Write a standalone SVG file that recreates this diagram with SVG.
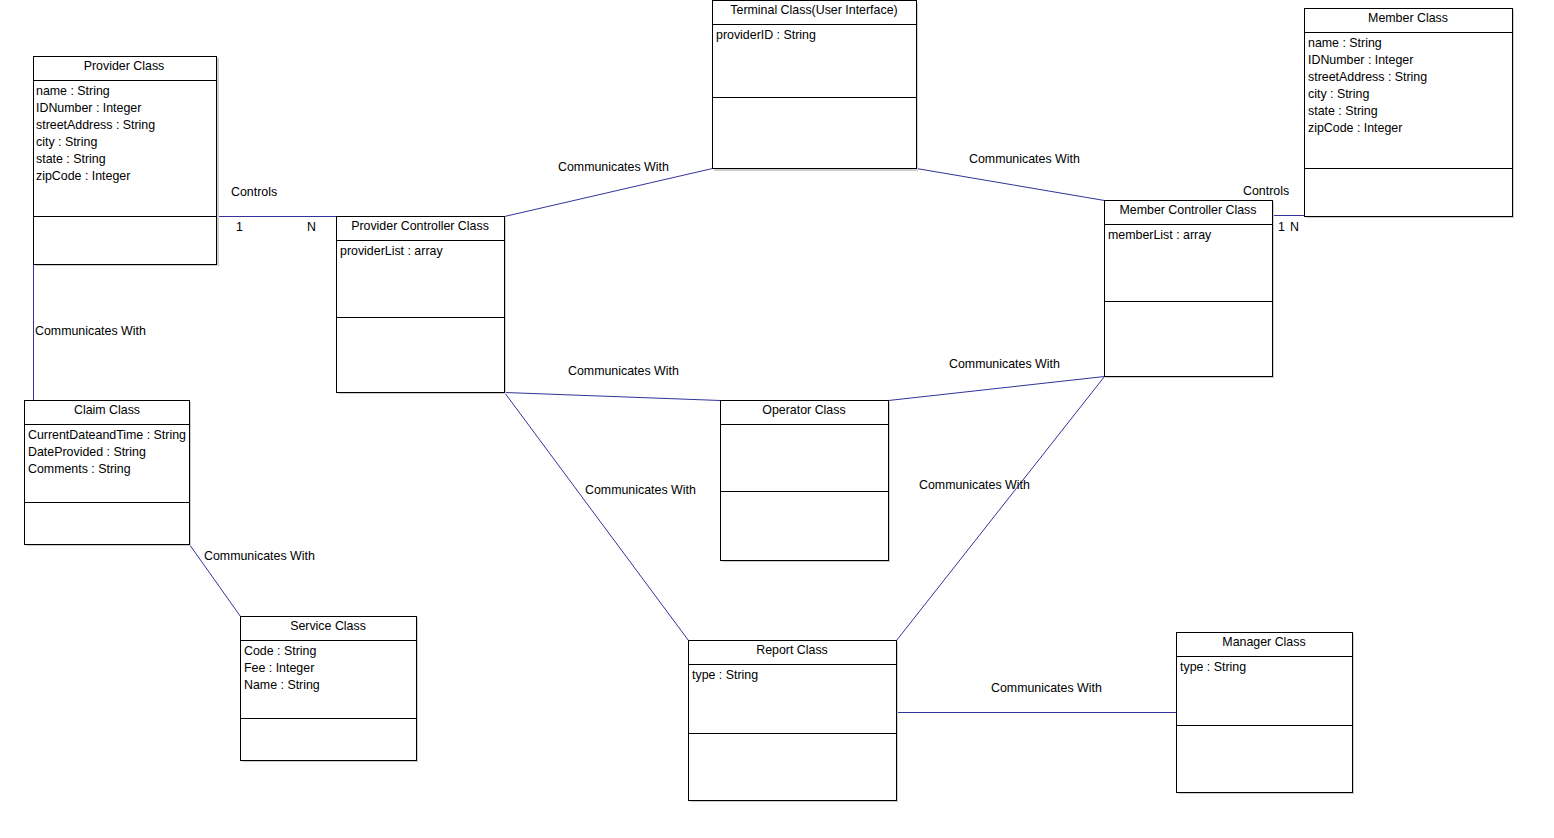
<svg xmlns="http://www.w3.org/2000/svg" width="1554" height="838" viewBox="0 0 1554 838">
<style>
text{font-family:"Liberation Sans",Arial,sans-serif;font-size:12.4px;fill:#000}
.t{text-anchor:middle}
.box{fill:#fff;stroke:#000;stroke-width:1}
.sh{fill:#cfcfcf}
.div{stroke:#000;stroke-width:1}
.c{stroke:#333399;stroke-width:1;fill:none}
</style>
<rect width="1554" height="838" fill="#fff"/>
<g id="connectors">
<line class="c" x1="216.5" y1="216.5" x2="336.5" y2="216.5"/>
<line class="c" x1="33.5" y1="264.5" x2="33.5" y2="400.5"/>
<line class="c" x1="504.5" y1="216.5" x2="712.5" y2="168.5"/>
<line class="c" x1="916.5" y1="168.5" x2="1104.5" y2="200.5"/>
<line class="c" x1="1272.5" y1="215.5" x2="1304.5" y2="215.5"/>
<line class="c" x1="504.5" y1="392.5" x2="720.5" y2="400.5"/>
<line class="c" x1="888.5" y1="400.5" x2="1104.5" y2="376.5"/>
<line class="c" x1="504.5" y1="392.5" x2="688.5" y2="640.5"/>
<line class="c" x1="1104.5" y1="376.5" x2="896.5" y2="640.5"/>
<line class="c" x1="189.5" y1="544.5" x2="240.5" y2="616.5"/>
<line class="c" x1="896.5" y1="712.5" x2="1176.5" y2="712.5"/>
<text x="231" y="196">Controls</text>
<text x="236" y="231">1</text>
<text x="307" y="231">N</text>
<text x="35" y="335">Communicates With</text>
<text x="558" y="171">Communicates With</text>
<text x="969" y="163">Communicates With</text>
<text x="1243" y="195">Controls</text>
<text x="1278" y="231">1</text>
<text x="1290" y="231">N</text>
<text x="568" y="375">Communicates With</text>
<text x="949" y="368">Communicates With</text>
<text x="585" y="494">Communicates With</text>
<text x="919" y="489">Communicates With</text>
<text x="204" y="560">Communicates With</text>
<text x="991" y="692">Communicates With</text>
</g>
<g id="provider">
<rect class="sh" x="35" y="58" width="184" height="208"/>
<rect class="box" x="33.5" y="56.5" width="183" height="208"/>
<line class="div" x1="33.5" y1="80.5" x2="216.5" y2="80.5"/>
<line class="div" x1="33.5" y1="216.5" x2="216.5" y2="216.5"/>
<text class="t" x="124" y="70">Provider Class</text>
<text x="36" y="95">name : String</text>
<text x="36" y="112">IDNumber : Integer</text>
<text x="36" y="129">streetAddress : String</text>
<text x="36" y="146">city : String</text>
<text x="36" y="163">state : String</text>
<text x="36" y="180">zipCode : Integer</text>
</g>
<g id="terminal">
<rect class="sh" x="714" y="3" width="204" height="168"/>
<rect class="box" x="712.5" y="0.5" width="204" height="168"/>
<line class="div" x1="712.5" y1="24.5" x2="916.5" y2="24.5"/>
<line class="div" x1="712.5" y1="97.5" x2="916.5" y2="97.5"/>
<text class="t" x="814" y="14">Terminal Class(User Interface)</text>
<text x="716" y="39">providerID : String</text>
</g>
<g id="member">
<rect class="sh" x="1306" y="10" width="208" height="208"/>
<rect class="box" x="1304.5" y="8.5" width="208" height="208"/>
<line class="div" x1="1304.5" y1="32.5" x2="1512.5" y2="32.5"/>
<line class="div" x1="1304.5" y1="168.5" x2="1512.5" y2="168.5"/>
<text class="t" x="1408" y="22">Member Class</text>
<text x="1308" y="47">name : String</text>
<text x="1308" y="64">IDNumber : Integer</text>
<text x="1308" y="81">streetAddress : String</text>
<text x="1308" y="98">city : String</text>
<text x="1308" y="115">state : String</text>
<text x="1308" y="132">zipCode : Integer</text>
</g>
<g id="providerController">
<rect class="sh" x="338" y="218" width="168" height="176"/>
<rect class="box" x="336.5" y="216.5" width="168" height="176"/>
<line class="div" x1="336.5" y1="240.5" x2="504.5" y2="240.5"/>
<line class="div" x1="336.5" y1="317.5" x2="504.5" y2="317.5"/>
<text class="t" x="420" y="230">Provider Controller Class</text>
<text x="340" y="255">providerList : array</text>
</g>
<g id="memberController">
<rect class="sh" x="1106" y="202" width="168" height="176"/>
<rect class="box" x="1104.5" y="200.5" width="168" height="176"/>
<line class="div" x1="1104.5" y1="224.5" x2="1272.5" y2="224.5"/>
<line class="div" x1="1104.5" y1="301.5" x2="1272.5" y2="301.5"/>
<text class="t" x="1188" y="214">Member Controller Class</text>
<text x="1108" y="239">memberList : array</text>
</g>
<g id="claim">
<rect class="sh" x="26" y="402" width="165" height="144"/>
<rect class="box" x="24.5" y="400.5" width="165" height="144"/>
<line class="div" x1="24.5" y1="424.5" x2="189.5" y2="424.5"/>
<line class="div" x1="24.5" y1="502.5" x2="189.5" y2="502.5"/>
<text class="t" x="107" y="414">Claim Class</text>
<text x="28" y="439">CurrentDateandTime : String</text>
<text x="28" y="456">DateProvided : String</text>
<text x="28" y="473">Comments : String</text>
</g>
<g id="operator">
<rect class="sh" x="722" y="402" width="168" height="160"/>
<rect class="box" x="720.5" y="400.5" width="168" height="160"/>
<line class="div" x1="720.5" y1="424.5" x2="888.5" y2="424.5"/>
<line class="div" x1="720.5" y1="491.5" x2="888.5" y2="491.5"/>
<text class="t" x="804" y="414">Operator Class</text>
</g>
<g id="service">
<rect class="sh" x="242" y="618" width="176" height="144"/>
<rect class="box" x="240.5" y="616.5" width="176" height="144"/>
<line class="div" x1="240.5" y1="640.5" x2="416.5" y2="640.5"/>
<line class="div" x1="240.5" y1="718.5" x2="416.5" y2="718.5"/>
<text class="t" x="328" y="630">Service Class</text>
<text x="244" y="655">Code : String</text>
<text x="244" y="672">Fee : Integer</text>
<text x="244" y="689">Name : String</text>
</g>
<g id="report">
<rect class="sh" x="690" y="642" width="208" height="160"/>
<rect class="box" x="688.5" y="640.5" width="208" height="160"/>
<line class="div" x1="688.5" y1="664.5" x2="896.5" y2="664.5"/>
<line class="div" x1="688.5" y1="733.5" x2="896.5" y2="733.5"/>
<text class="t" x="792" y="654">Report Class</text>
<text x="692" y="679">type : String</text>
</g>
<g id="manager">
<rect class="sh" x="1178" y="634" width="176" height="160"/>
<rect class="box" x="1176.5" y="632.5" width="176" height="160"/>
<line class="div" x1="1176.5" y1="656.5" x2="1352.5" y2="656.5"/>
<line class="div" x1="1176.5" y1="725.5" x2="1352.5" y2="725.5"/>
<text class="t" x="1264" y="646">Manager Class</text>
<text x="1180" y="671">type : String</text>
</g>
</svg>
